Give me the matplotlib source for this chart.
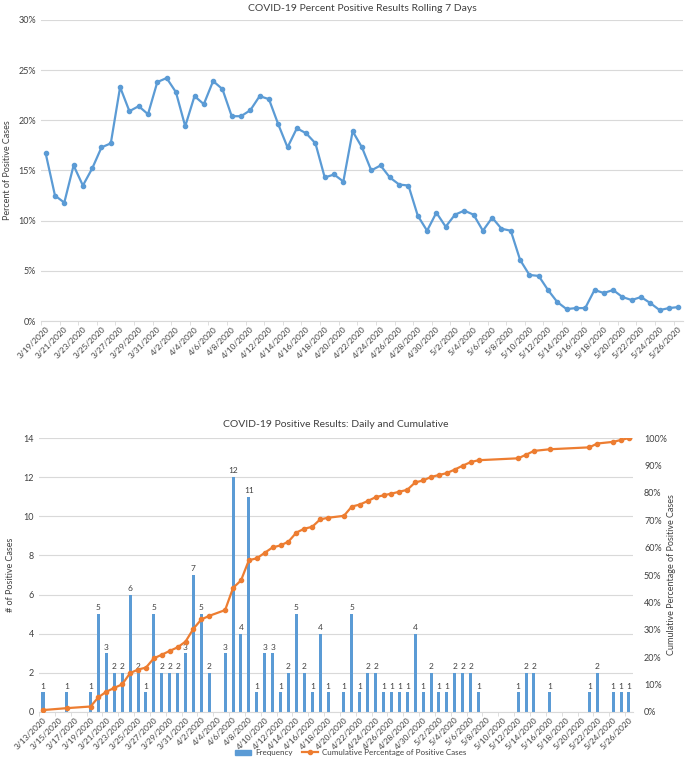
import matplotlib
matplotlib.use('Agg')
import matplotlib.pyplot as plt
import matplotlib.dates as mdates
from matplotlib.ticker import FuncFormatter, MultipleLocator
from matplotlib.lines import Line2D
from matplotlib.patches import Patch
import pandas as pd
import numpy as np

plt.rcParams['font.family'] = ['Lato', 'DejaVu Sans']

BLUE = '#5B9BD5'
ORANGE = '#ED7D31'
GRID = '#D9D9D9'
TXT = '#404040'

# --- top chart: rolling 7 day percent positive (3/19/2020 .. 5/26/2020)
roll_start = '2020-03-19'
roll_pct = [16.7, 12.5, 11.8, 15.5, 13.5, 15.2, 17.3, 17.7, 23.3, 20.9,
            21.4, 20.6, 23.8, 24.2, 22.8, 19.4, 22.4, 21.6, 23.9, 23.1,
            20.4, 20.4, 21.0, 22.4, 22.1, 19.6, 17.3, 19.2, 18.7, 17.7,
            14.3, 14.6, 13.9, 18.9, 17.3, 15.0, 15.5, 14.3, 13.6, 13.5,
            10.5, 9.0, 10.8, 9.4, 10.6, 11.0, 10.6, 9.0, 10.3, 9.2,
            9.0, 6.1, 4.6, 4.5, 3.1, 1.9, 1.2, 1.3, 1.3, 3.1,
            2.8, 3.1, 2.4, 2.1, 2.4, 1.8, 1.1, 1.3, 1.4]

# --- bottom chart: daily positives and cumulative share
bar_dates = ['3/13', '3/16', '3/19', '3/20', '3/21', '3/22', '3/23', '3/24', '3/25', '3/26',
             '3/27', '3/28', '3/29', '3/30', '3/31', '4/1', '4/2', '4/3', '4/5', '4/6',
             '4/7', '4/8', '4/9', '4/10', '4/11', '4/12', '4/13', '4/14', '4/15', '4/16',
             '4/17', '4/18', '4/20', '4/21', '4/22', '4/23', '4/24', '4/25', '4/26', '4/27',
             '4/28', '4/29', '4/30', '5/1', '5/2', '5/3', '5/4', '5/5', '5/6', '5/7',
             '5/12', '5/13', '5/14', '5/16', '5/21', '5/22', '5/24', '5/25', '5/26']
freq = [1, 1, 1, 5, 3, 2, 2, 6, 2, 1,
        5, 2, 2, 2, 3, 7, 5, 2, 3, 12,
        4, 11, 1, 3, 3, 1, 2, 5, 2, 1,
        4, 1, 1, 5, 1, 2, 2, 1, 1, 1,
        1, 4, 1, 2, 1, 1, 2, 2, 2, 1,
        1, 2, 2, 1, 1, 2, 1, 1, 1]
cum_pct = [0.7, 1.4, 2.0, 5.4, 7.4, 8.8, 10.1, 14.2, 15.5, 16.2,
           19.6, 20.9, 22.3, 23.6, 25.7, 30.4, 33.8, 35.1, 37.2, 45.3,
           48.0, 55.4, 56.1, 58.1, 60.1, 60.8, 62.2, 65.5, 66.9, 67.6,
           70.3, 70.9, 71.6, 75.0, 75.7, 77.0, 78.4, 79.1, 79.7, 80.4,
           81.1, 83.8, 84.5, 85.8, 86.5, 87.2, 88.5, 89.9, 91.2, 91.9,
           92.6, 93.9, 95.3, 95.9, 96.6, 98.0, 98.6, 99.3, 100.0]


def date_fmt(x, pos):
    d = mdates.num2date(x)
    return f'{d.month}/{d.day}/{d.year}'


def style_xaxis(ax, first, last):
    ax.set_xlim(first - pd.Timedelta(hours=12), last + pd.Timedelta(hours=12))
    ticks = pd.date_range(first, last, freq='2D')
    ax.set_xticks(ticks)
    ax.xaxis.set_major_formatter(FuncFormatter(date_fmt))
    ax.set_xticks(ticks - pd.Timedelta(hours=12), minor=True)
    ax.tick_params(axis='x', which='major', length=0, labelsize=6, labelcolor=TXT, pad=3)
    ax.tick_params(axis='x', which='minor', length=3, color=GRID)
    for lab in ax.get_xticklabels():
        lab.set_rotation(45)
        lab.set_ha('right')
        lab.set_rotation_mode('anchor')
    for s in ['top', 'right', 'left']:
        ax.spines[s].set_visible(False)
    ax.spines['bottom'].set_color(GRID)


fig = plt.figure(figsize=(6.85, 7.61), dpi=100)

# top
ax = fig.add_axes([0.0599, 0.578, 0.937, 0.396])
rd = pd.date_range(roll_start, periods=len(roll_pct), freq='D')
ax.plot(rd, roll_pct, color=BLUE, lw=1.6, marker='o', ms=3)
ax.set_ylim(0, 30)
ax.yaxis.set_major_locator(MultipleLocator(5))
ax.yaxis.set_major_formatter(FuncFormatter(lambda v, p: f'{v:.0f}%'))
ax.tick_params(axis='y', length=0, labelsize=6.5, labelcolor=TXT)
ax.grid(axis='y', color=GRID, lw=0.8)
ax.set_axisbelow(True)
style_xaxis(ax, rd[0], rd[-1])
ax.set_ylabel('Percent of Positive Cases', fontsize=6.5, color=TXT, labelpad=5)
ax.set_title('COVID-19 Percent Positive Results Rolling 7 Days', fontsize=7.5, color=TXT, pad=6)

# bottom
bx = fig.add_axes([0.057, 0.0644, 0.867, 0.36])
bd = pd.to_datetime([d + '/2020' for d in bar_dates], format='%m/%d/%Y')
bars = bx.bar(bd, freq, width=0.38, color=BLUE)
bx.bar_label(bars, fontsize=6, color=TXT, padding=2)
bx.set_ylim(0, 14)
bx.yaxis.set_major_locator(MultipleLocator(2))
bx.tick_params(axis='y', length=0, labelsize=6.5, labelcolor=TXT)
bx.grid(axis='y', color=GRID, lw=0.8)
bx.set_axisbelow(True)
style_xaxis(bx, pd.Timestamp('2020-03-13'), pd.Timestamp('2020-05-26'))
bx.set_ylabel('# of Positive Cases', fontsize=6.5, color=TXT, labelpad=6)
bx.set_title('COVID-19 Positive Results: Daily and Cumulative', fontsize=7.5, color=TXT, pad=8)

b2 = bx.twinx()
b2.plot(bd, np.array(cum_pct) / 100, color=ORANGE, lw=1.6, marker='o', ms=3)
b2.set_ylim(0, 1)
b2.yaxis.set_major_locator(MultipleLocator(0.1))
b2.yaxis.set_major_formatter(FuncFormatter(lambda v, p: f'{v*100:.0f}%'))
b2.tick_params(axis='y', length=0, labelsize=6.5, labelcolor=TXT, pad=8)
for s in b2.spines.values():
    s.set_visible(False)
b2.set_ylabel('Cumulative Percentage of Positive Cases', fontsize=6.5, color=TXT, labelpad=0)

handles = [Patch(color=BLUE), Line2D([0], [0], color=ORANGE, lw=1.6, marker='o', ms=3)]
fig.legend(handles, ['Frequency', 'Cumulative Percentage of Positive Cases'],
           loc='lower center', bbox_to_anchor=(0.512, -0.003), ncol=2, frameon=False,
           fontsize=5.8, handlelength=2, handleheight=0.6, handletextpad=0.5,
           columnspacing=1.2, labelcolor=TXT)

fig.savefig('out.png', dpi=100)
